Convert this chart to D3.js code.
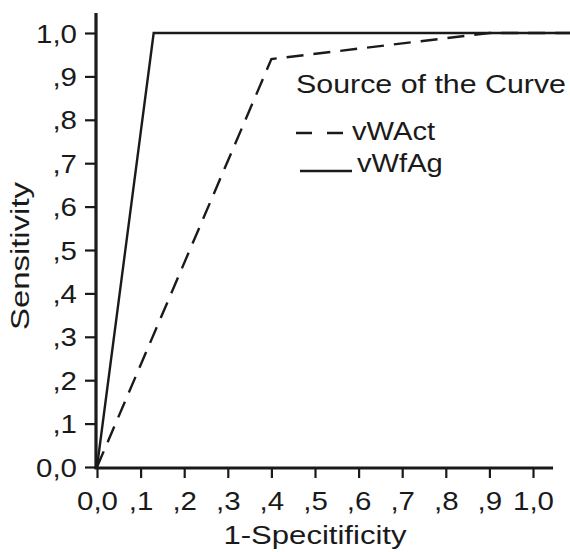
<!DOCTYPE html>
<html>
<head>
<meta charset="utf-8">
<script src="https://cdn.jsdelivr.net/npm/d3@7"></script>
<style>
  body { margin: 0; background: #fff; }
  text { font-family: "Liberation Sans", Arial, sans-serif; fill: #1a1a1a; }
</style>
</head>
<body>
<div id="chart"></div>
<script>
// ROC curve data
const tickValues = [0, 0.1, 0.2, 0.3, 0.4, 0.5, 0.6, 0.7, 0.8, 0.9, 1.0];
const tickLabels = ["0,0", ",1", ",2", ",3", ",4", ",5", ",6", ",7", ",8", ",9", "1,0"];

// the top segment runs on past the axis end to the picture edge
const vWActX = [0, 0.40, 0.90, 1.09];
const vWActY = [0, 0.94, 1.0, 1.0];
const vWfAgX = [0, 0.13, 1.09];
const vWfAgY = [0, 1.0, 1.0];

const seriesNames = ["vWAct", "vWfAg"];
const legendTitle = "Source of the Curve";
const xTitle = "1-Specitificity";
const yTitle = "Sensitivity";

const width = 570, height = 552;
const axisMax = 1.046;
const stretch = 1.18; // glyphs in the source are a little wide

const svg = d3.select("#chart").append("svg")
    .attr("width", width)
    .attr("height", height);

const x = d3.scaleLinear().domain([0, 1]).range([97, 533]);
const y = d3.scaleLinear().domain([0, 1]).range([467, 33]);

const fmt = d => tickLabels[tickValues.findIndex(v => Math.abs(v - d) < 1e-9)];

// axes
const xAxisG = svg.append("g")
    .attr("transform", `translate(0,${y(0)})`)
    .call(d3.axisBottom(x).tickValues(tickValues).tickFormat(fmt).tickSize(11).tickSizeOuter(0).tickPadding(14));
const yAxisG = svg.append("g")
    .attr("transform", `translate(${x(0) - 1},0)`)
    .call(d3.axisLeft(y).tickValues(tickValues).tickFormat(fmt).tickSize(11).tickSizeOuter(0).tickPadding(8));

[xAxisG, yAxisG].forEach(g => {
    g.select(".domain").remove();
    g.selectAll(".tick line").attr("stroke", "#1a1a1a").attr("stroke-width", 2.2);
    g.selectAll(".tick text")
        .attr("font-size", 25)
        .attr("fill", "#1a1a1a")
        .style("font-family", '"Liberation Sans", Arial, sans-serif');
});
xAxisG.selectAll(".tick text").attr("dy", "0.71em").attr("y", 25);
yAxisG.selectAll(".tick text").attr("dy", "0.36em");

// stretch tick labels horizontally
svg.selectAll(".tick text").each(function () {
    const w = this.getComputedTextLength();
    d3.select(this).attr("textLength", w * stretch).attr("lengthAdjust", "spacingAndGlyphs");
});

// axis lines
svg.append("line")
    .attr("x1", x(0) - 1).attr("x2", x(0) - 1)
    .attr("y1", y(0) + 1.5).attr("y2", y(axisMax))
    .attr("stroke", "#1a1a1a").attr("stroke-width", 3.2);
svg.append("line")
    .attr("x1", x(0) - 2.5).attr("x2", x(axisMax))
    .attr("y1", y(0) + 1).attr("y2", y(0) + 1)
    .attr("stroke", "#1a1a1a").attr("stroke-width", 3.2);

// curves
const line = d3.line().x(d => x(d[0])).y(d => y(d[1]));
const curves = [
    { name: seriesNames[0], pts: d3.zip(vWActX, vWActY), dash: "17,10" },
    { name: seriesNames[1], pts: d3.zip(vWfAgX, vWfAgY), dash: null }
];
svg.append("g").selectAll("path")
    .data(curves)
    .join("path")
    .attr("d", d => line(d.pts))
    .attr("fill", "none")
    .attr("stroke", "#1a1a1a")
    .attr("stroke-width", 2.4)
    .attr("stroke-dasharray", d => d.dash);

// axis titles
svg.append("text")
    .attr("x", (x(0) + x(1)) / 2)
    .attr("y", 544)
    .attr("text-anchor", "middle")
    .attr("font-size", 25)
    .attr("textLength", 183)
    .attr("lengthAdjust", "spacingAndGlyphs")
    .text(xTitle);

svg.append("text")
    .attr("transform", "translate(29,256) rotate(-90)")
    .attr("text-anchor", "middle")
    .attr("font-size", 25)
    .attr("textLength", 148)
    .attr("lengthAdjust", "spacingAndGlyphs")
    .text(yTitle);

// legend
const legend = svg.append("g");
legend.append("text")
    .attr("x", 296).attr("y", 93)
    .attr("font-size", 26)
    .attr("textLength", 270)
    .attr("lengthAdjust", "spacingAndGlyphs")
    .text(legendTitle);

const legendRows = [
    { name: seriesNames[0], y: 133, tx: 352, ty: 140, x1: 296, x2: 343, dash: "16,15" },
    { name: seriesNames[1], y: 171, tx: 357, ty: 172, x1: 300, x2: 352, dash: null }
];
legendRows.forEach(r => {
    legend.append("line")
        .attr("x1", r.x1).attr("x2", r.x2)
        .attr("y1", r.y).attr("y2", r.y)
        .attr("stroke", "#1a1a1a").attr("stroke-width", 2.4)
        .attr("stroke-dasharray", r.dash);
    const t = legend.append("text")
        .attr("x", r.tx).attr("y", r.ty)
        .attr("font-size", 26)
        .text(r.name);
    const w = t.node().getComputedTextLength();
    t.attr("textLength", w * 1.12).attr("lengthAdjust", "spacingAndGlyphs");
});
</script>
</body>
</html>
